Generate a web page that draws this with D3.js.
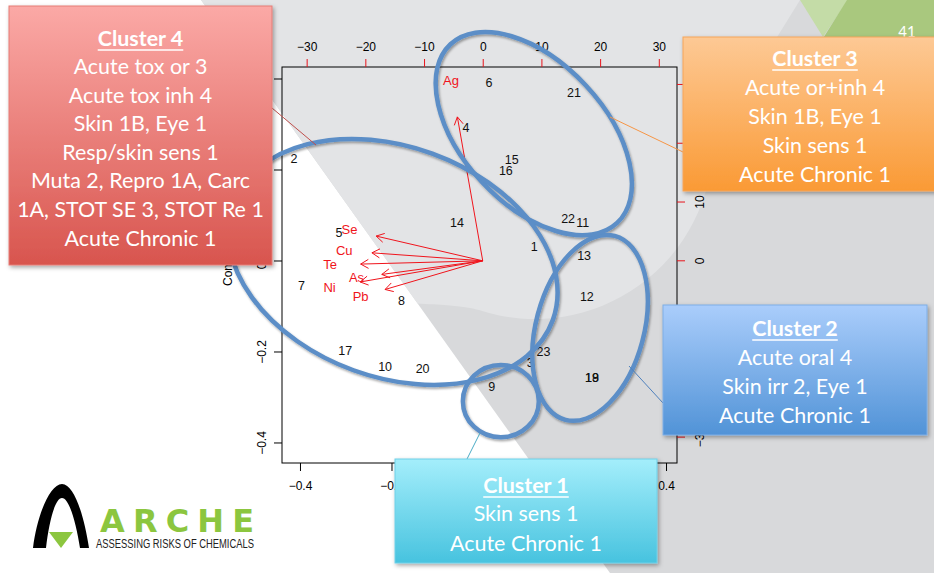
<!DOCTYPE html>
<html><head><meta charset="utf-8">
<script src="https://cdn.jsdelivr.net/npm/d3@7"></script>
<style>body{margin:0;background:#fff;overflow:hidden}svg{display:block}</style>
</head><body><svg id="c" width="934" height="573"></svg>
<script>
// ---------- data ----------
const pointLabels = ["1","2","3","4","5","6","7","8","9","10","11","12","13","14","15","16","17","18","19","20","21","22","23"];
const pointX = [0.112,-0.413,0.103,-0.037,-0.315,0.013,-0.397,-0.178,0.019,-0.214,0.218,0.227,0.221,-0.057,0.063,0.050,-0.301,0.238,0.238,-0.132,0.199,0.186,0.132];
const pointY = [0.031,0.224,-0.224,0.293,0.063,0.393,-0.054,-0.087,-0.276,-0.232,0.085,-0.078,0.011,0.084,0.222,0.198,-0.196,-0.256,-0.256,-0.237,0.369,0.094,-0.200];
const loadingLabels = ["Ag","Se","Cu","Te","As","Ni","Pb"];
const loadingX = [-5.4,-22.7,-23.6,-26.0,-21.5,-26.1,-20.8];
const loadingY = [30.6,5.26,1.7,-0.7,-2.9,-4.5,-6.1];
const xTicks = [-0.4,-0.2,0,0.2,0.4];
const yTicks = [-0.4,-0.2,0,0.2,0.4];
const topTicks = [-30,-20,-10,0,10,20,30];
const rightTicks = [-30,-20,-10,0,10,20,30];
const xTitle = "Comp.1", yTitle = "Comp.2";
const clusterTitles = ["Cluster 1","Cluster 2","Cluster 3","Cluster 4"];
const clusterLines = [
  ["Skin sens 1","Acute Chronic 1"],
  ["Acute oral 4","Skin irr 2, Eye 1","Acute Chronic 1"],
  ["Acute or+inh 4","Skin 1B, Eye 1","Skin sens 1","Acute Chronic 1"],
  ["Acute tox or 3","Acute tox inh 4","Skin 1B, Eye 1","Resp/skin sens 1","Muta 2, Repro 1A, Carc","1A, STOT SE 3, STOT Re 1","Acute Chronic 1"]
];
const pageNumber = "41";
const logoWord = "ARCHE", logoTag = "ASSESSING RISKS OF CHEMICALS";

// ---------- layout ----------
const W = 934, H = 573;
const plot = {l:282, r:677, t:67, b:463};
const svg = d3.select("#c");
const defs = svg.append("defs");

const x = d3.scaleLinear().domain([-0.4393,0.424]).range([plot.l,plot.r]);
const y = d3.scaleLinear().domain([-0.444,0.4264]).range([plot.b,plot.t]);
const x2 = d3.scaleLinear().domain([-34.2,33.1]).range([plot.l,plot.r]);
const y2 = d3.scaleLinear().domain([-34.4,32.97]).range([plot.b,plot.t]);

// filters
const f1 = defs.append("filter").attr("id","shE").attr("x","-20%").attr("y","-20%").attr("width","140%").attr("height","140%");
f1.append("feDropShadow").attr("dx",1.2).attr("dy",1.8).attr("stdDeviation",1.3).attr("flood-color","#000").attr("flood-opacity",0.35);
const f2 = defs.append("filter").attr("id","shB").attr("x","-10%").attr("y","-10%").attr("width","125%").attr("height","130%");
f2.append("feDropShadow").attr("dx",1.5).attr("dy",2).attr("stdDeviation",2).attr("flood-color","#000").attr("flood-opacity",0.35);

// ---------- background ----------
svg.append("rect").attr("width",W).attr("height",H).attr("fill","#fff");
defs.append("clipPath").attr("id","diag").append("polygon").attr("points","201,0 934,0 934,573 610,573");
const bg = svg.append("g").attr("clip-path","url(#diag)");
bg.append("rect").attr("width",W).attr("height",H).attr("fill","#d8d9db");
bg.append("path").attr("fill","#e3e4e6")
  .attr("d","M0,0 L800,0 L713,141 A178,178 0 0 1 479,310 C455,304 430,300 0,300 Z");
svg.append("polygon").attr("points","800,0 848,0 823,37").attr("fill","#c4dca7");
svg.append("polygon").attr("points","847,0 934,0 934,40 822,40").attr("fill","#a9c87e");
svg.append("text").attr("x",907).attr("y",32).attr("dy","0.35em").attr("text-anchor","middle")
  .attr("font-family","Lato, 'Open Sans', sans-serif").attr("font-size",15).attr("fill","#fff").text(pageNumber);

// ---------- plot ----------
const g = svg.append("g").attr("font-family","'Liberation Sans', Arial, sans-serif");
g.append("rect").attr("x",plot.l).attr("y",plot.t).attr("width",plot.r-plot.l).attr("height",plot.b-plot.t)
  .attr("fill","none").attr("stroke","#000").attr("stroke-width",1);

// bottom axis
const axB = g.append("g").attr("transform",`translate(0,${plot.b})`)
  .call(d3.axisBottom(x).tickValues(xTicks).tickSize(8).tickPadding(10).tickFormat(d3.format(".1f")));
axB.select(".domain").remove();
axB.selectAll("text").attr("font-size",12).attr("font-family","'Liberation Sans', Arial, sans-serif");
// left axis
const axL = g.append("g").attr("transform",`translate(${plot.l},0)`)
  .call(d3.axisLeft(y).tickValues(yTicks).tickSize(8).tickFormat(d3.format(".1f")));
axL.select(".domain").remove();
axL.selectAll(".tick").attr("transform",null);
axL.selectAll(".tick line").attr("y1",d=>y(d)).attr("y2",d=>y(d));
axL.selectAll("text").attr("font-size",12).attr("font-family","'Liberation Sans', Arial, sans-serif")
  .attr("text-anchor","middle").attr("x",0).attr("dy",0).attr("y",0)
  .attr("transform",d=>`translate(-20,${y(d)}) rotate(-90) translate(0,4)`);
// top axis (red ticks)
const axT = g.append("g").attr("transform",`translate(0,${plot.t})`)
  .call(d3.axisTop(x2).tickValues(topTicks).tickSize(8).tickPadding(8));
axT.select(".domain").remove();
axT.selectAll(".tick line").attr("stroke","#e8141c");
axT.selectAll("text").attr("font-size",12).attr("font-family","'Liberation Sans', Arial, sans-serif");
// right axis (red ticks)
const axR = g.append("g").attr("transform",`translate(${plot.r},0)`)
  .call(d3.axisRight(y2).tickValues(rightTicks).tickSize(8));
axR.select(".domain").remove();
axR.selectAll(".tick").attr("transform",null);
axR.selectAll(".tick line").attr("stroke","#e8141c").attr("y1",d=>y2(d)).attr("y2",d=>y2(d));
axR.selectAll("text").attr("font-size",12).attr("font-family","'Liberation Sans', Arial, sans-serif")
  .attr("text-anchor","middle").attr("x",0).attr("dy",0).attr("y",0)
  .attr("transform",d=>`translate(23,${y2(d)}) rotate(-90) translate(0,4)`);

// axis titles
g.append("text").attr("x",(plot.l+plot.r)/2).attr("y",510).attr("text-anchor","middle").attr("font-size",12).text(xTitle);
g.append("text").attr("transform",`translate(232,${(plot.t+plot.b)/2}) rotate(-90)`).attr("text-anchor","middle").attr("font-size",12).text(yTitle);

// observation labels
g.selectAll("text.pt").data(pointLabels).join("text").attr("class","pt")
  .attr("x",(d,i)=>x(pointX[i])).attr("y",(d,i)=>y(pointY[i])).attr("dy","0.35em")
  .attr("text-anchor","middle").attr("font-size",12.5).attr("fill","#111").text(d=>d);

// loading arrows
const ox = x2(0), oy = y2(0);
const ar = g.append("g").attr("stroke","#f0141c").attr("stroke-width",1).attr("fill","none");
loadingLabels.forEach((lab,i)=>{
  const tx = x2(loadingX[i]*0.8), ty = y2(loadingY[i]*0.8);
  ar.append("line").attr("x1",ox).attr("y1",oy).attr("x2",tx).attr("y2",ty);
  const ang = Math.atan2(ty-oy, tx-ox), L = 9, a = Math.PI/6;
  ar.append("path").attr("d",`M${tx-L*Math.cos(ang-a)},${ty-L*Math.sin(ang-a)}L${tx},${ty}L${tx-L*Math.cos(ang+a)},${ty-L*Math.sin(ang+a)}`);
});
g.selectAll("text.ld").data(loadingLabels).join("text").attr("class","ld")
  .attr("x",(d,i)=>x2(loadingX[i])).attr("y",(d,i)=>y2(loadingY[i])).attr("dy","0.35em")
  .attr("text-anchor","middle").attr("font-size",13).attr("fill","#f0141c").text(d=>d);

// ---------- cluster ellipses (data units, angle deg) ----------
const clusterShapes = [
  {cx:0.039, cy:-0.308, rx:0.083, ry:0.079, rot:0},
  {cx:0.234, cy:-0.147, rx:0.208, ry:0.118, rot:-75},
  {cx:0.111, cy:0.280, rx:0.267, ry:0.155, rot:47},
  {cx:-0.197, cy:-0.002, rx:0.372, ry:0.252, rot:20}
];
const kx = x(1)-x(0);
const eg = svg.append("g").attr("filter","url(#shE)");
clusterShapes.forEach(s=>{
  const cx = x(s.cx), cy = y(s.cy);
  eg.append("ellipse").attr("cx",cx).attr("cy",cy).attr("rx",s.rx*kx).attr("ry",s.ry*kx)
    .attr("transform",`rotate(${s.rot},${cx},${cy})`)
    .attr("fill","none").attr("stroke","#5b8ec7").attr("stroke-width",4.5);
});

// ---------- connectors ----------
const connectors = [
  {p:[480,433,467,459], c:"#4bacc6"},
  {p:[629,366,663,403], c:"#4f81bd"},
  {p:[610,117,683,152], c:"#f79646"},
  {p:[272,108,316,145], c:"#c0504d"}
];
connectors.forEach(k=>svg.append("line").attr("x1",k.p[0]).attr("y1",k.p[1]).attr("x2",k.p[2]).attr("y2",k.p[3])
  .attr("stroke",k.c).attr("stroke-width",1));

// ---------- boxes ----------
const boxFont = "Lato, 'Open Sans', sans-serif";
const probe = svg.append("text").attr("font-family",boxFont).attr("font-size",20).text("Acute Chronic 1");
const fs = 20*152/probe.node().getComputedTextLength();
probe.remove();
const boxes = [
  {x:395, y:459, w:262, h:104, top:"#a4eefb", bot:"#47c3df", border:"#6fd0e8", cx:526, ys:[485,513,543]},
  {x:663, y:305, w:264, h:130, top:"#aacdfb", bot:"#5193d7", border:"#7eaee6", cx:795, ys:[328,357,386,415]},
  {x:683, y:37, w:264, h:154, top:"#fdc995", bot:"#fa9a35", border:"#f6a55a", cx:815, ys:[58,87,116,145,174]},
  {x:9, y:6, w:263, h:259, top:"#fba9a6", bot:"#d8554e", border:"#e57c77", cx:140.5, ys:[38,66,95,123,152,180,209,238]}
];
boxes.forEach((b,i)=>{
  const gid = "grad"+i;
  const gr = defs.append("linearGradient").attr("id",gid).attr("x1",0).attr("y1",0).attr("x2",0).attr("y2",1);
  gr.append("stop").attr("offset","0%").attr("stop-color",b.top);
  gr.append("stop").attr("offset","100%").attr("stop-color",b.bot);
  const bx = svg.append("g");
  bx.append("rect").attr("x",b.x).attr("y",b.y).attr("width",b.w).attr("height",b.h)
    .attr("fill",`url(#${gid})`).attr("stroke",b.border).attr("stroke-width",1).attr("filter","url(#shB)");
  const lines = [clusterTitles[i]].concat(clusterLines[i]);
  lines.forEach((t,j)=>{
    const tx = bx.append("text").attr("x",b.cx).attr("y",b.ys[j]).attr("dy","0.35em").attr("text-anchor","middle")
      .attr("font-family",boxFont).attr("font-size",fs).attr("font-weight",j===0?700:400).attr("fill","#fff").text(t);
    if(j===0){
      const w = tx.node().getComputedTextLength();
      bx.append("line").attr("x1",b.cx-w/2).attr("x2",b.cx+w/2).attr("y1",b.ys[j]+12).attr("y2",b.ys[j]+12)
        .attr("stroke","#fff").attr("stroke-width",1.6);
    }
  });
});

// ---------- logo ----------
const logo = svg.append("g");
logo.append("path").attr("fill","#000")
  .attr("d","M33,548 C37,515 50,484 62,484 C74,484 84,515 89,548 L80,548 C76,522 69,498 62,498 C55,498 49,522 46,548 Z");
logo.append("polygon").attr("points","49,532 73,532 61,548").attr("fill","#8cc63f");
logo.append("text").attr("x",100).attr("y",532).attr("font-family","'DejaVu Sans', sans-serif").attr("font-weight",700)
  .attr("font-size",32).attr("fill","#8cc63f").attr("textLength",154).attr("lengthAdjust","spacing").text(logoWord);
logo.append("text").attr("x",96).attr("y",548).attr("font-family","'Liberation Sans Narrow','Liberation Sans', sans-serif")
  .attr("font-size",12).attr("fill","#222").attr("textLength",158).attr("lengthAdjust","spacingAndGlyphs").text(logoTag);
</script></body></html>
